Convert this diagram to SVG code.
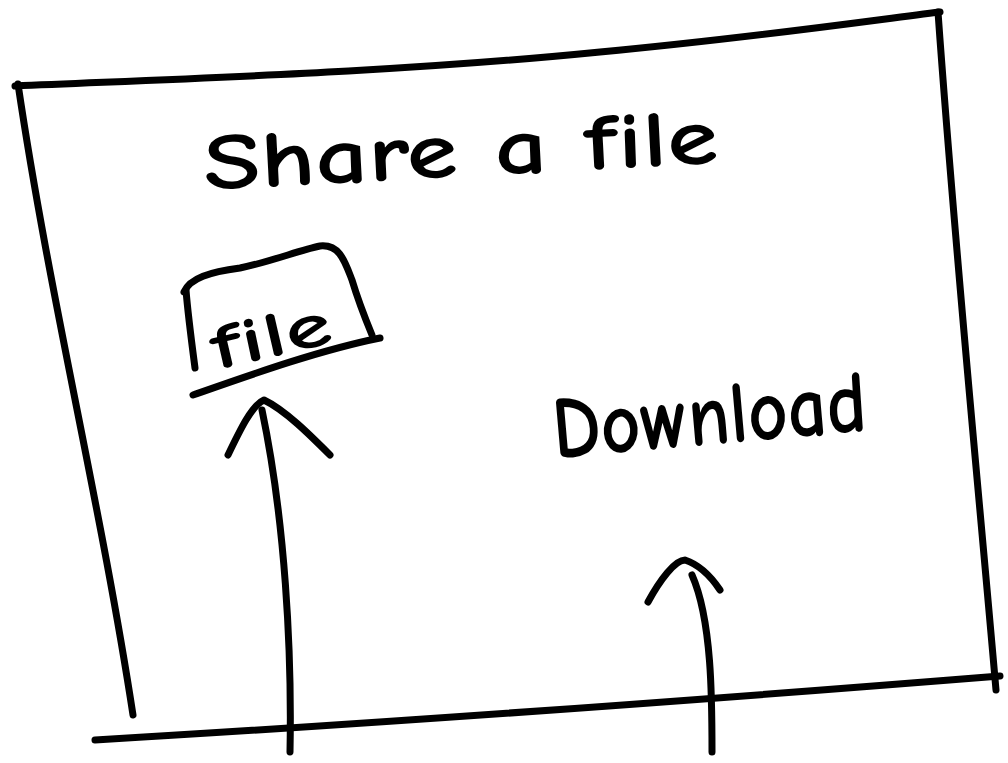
<svg xmlns="http://www.w3.org/2000/svg" width="1008" height="763" viewBox="0 0 1008 763">
<style>
.s{fill:none;stroke:#000;stroke-width:7;stroke-linecap:round;stroke-linejoin:round}
.t{font-family:"Comic Neue","Liberation Sans",sans-serif;font-weight:bold;fill:#000}
</style>
<rect width="1008" height="763" fill="#fff"/>
<g id="frame">
<path class="s" d="M15,86 C200,78 400,72 600,52 C750,38 860,22 940,12"/>
<path class="s" d="M18,84 C50,300 100,500 133,715"/>
<path class="s" d="M938,12 C955,250 975,450 996,690"/>
<path class="s" d="M95,740 C400,722 700,700 1000,676"/>
</g>
<g id="title"><text class="t" x="205" y="190" font-size="80" textLength="515" lengthAdjust="spacingAndGlyphs" transform="rotate(-3 205 190)">Share a file</text></g>
<g id="file">
<path class="s" d="M186,290 C188,315 192,345 195,368"/>
<path class="s" d="M184,292 C190,278 210,272 240,268 C270,262 300,250 320,246 C340,244 345,262 352,280 C358,300 365,318 372,335"/>
<path class="s" d="M193,395 C250,375 320,350 380,338"/>
<text class="t" x="216" y="370" font-size="64" textLength="122" lengthAdjust="spacingAndGlyphs" transform="rotate(-13 216 370)">file</text>
</g>
<g id="download"><text class="t" x="555" y="458" font-size="88" textLength="315" lengthAdjust="spacingAndGlyphs" transform="rotate(-5 555 458)">Download</text></g>
<g id="connectors">
<path class="s" d="M290,752 C292,650 285,520 262,410"/>
<path class="s" d="M228,455 C240,430 252,405 264,400 C285,410 310,435 330,455"/>
<path class="s" d="M712,752 C712,700 712,620 692,575"/>
<path class="s" d="M648,602 C660,580 675,560 685,560 C700,565 712,578 720,590"/>
</g>
</svg>
